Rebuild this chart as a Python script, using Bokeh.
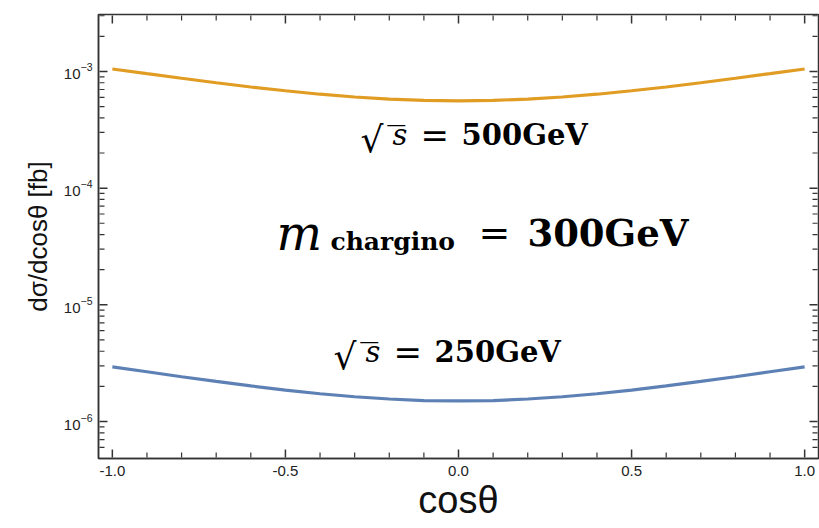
from bokeh.plotting import figure
from bokeh.models import (Range1d, LogTicker, Label, LogTickFormatter,
                          FixedTicker, NumeralTickFormatter)
from bokeh.embed import file_html
from bokeh.resources import INLINE

cos_theta = [-1.0, -0.9, -0.8, -0.7, -0.6, -0.5, -0.4, -0.3, -0.2, -0.1, 0.0,
             0.1, 0.2, 0.3, 0.4, 0.5, 0.6, 0.7, 0.8, 0.9, 1.0]
xsec_500 = [1.05e-3, 9.57e-4, 8.74e-4, 8.00e-4, 7.36e-4, 6.83e-4, 6.38e-4, 6.04e-4, 5.80e-4, 5.65e-4, 5.60e-4,
            5.65e-4, 5.80e-4, 6.04e-4, 6.38e-4, 6.83e-4, 7.36e-4, 8.00e-4, 8.74e-4, 9.57e-4, 1.05e-3]
xsec_250 = [2.94e-6, 2.67e-6, 2.42e-6, 2.21e-6, 2.02e-6, 1.86e-6, 1.73e-6, 1.63e-6, 1.56e-6, 1.51e-6, 1.50e-6,
            1.51e-6, 1.56e-6, 1.63e-6, 1.73e-6, 1.86e-6, 2.02e-6, 2.21e-6, 2.42e-6, 2.67e-6, 2.94e-6]
x_ticks = [-1.0, -0.5, 0.0, 0.5, 1.0]
x_minor_ticks = [-0.9, -0.8, -0.7, -0.6, -0.4, -0.3, -0.2, -0.1,
                 0.1, 0.2, 0.3, 0.4, 0.6, 0.7, 0.8, 0.9]
y_ticks = [1e-6, 1e-5, 1e-4, 1e-3]
y_minor_ticks = [6e-7, 7e-7, 8e-7, 9e-7,
                 2e-6, 3e-6, 4e-6, 5e-6, 6e-6, 7e-6, 8e-6, 9e-6,
                 2e-5, 3e-5, 4e-5, 5e-5, 6e-5, 7e-5, 8e-5, 9e-5,
                 2e-4, 3e-4, 4e-4, 5e-4, 6e-4, 7e-4, 8e-4, 9e-4,
                 2e-3, 3e-3]

ORANGE = "#E19C24"
BLUE = "#5E81B5"
AX = "#333333"
SANS = "Liberation Sans"
SERIF = "DejaVu Serif"

X0, X1 = -1.04, 1.04
Y0, Y1 = 10**-6.317, 10**-2.512
PX_X = 346.0    # frame pixels per unit of cos(theta)
PX_DEC = 116.7  # frame pixels per decade

p = figure(width=819, height=528, y_axis_type="log",
           x_range=Range1d(X0, X1), y_range=Range1d(Y0, Y1),
           output_backend="svg", toolbar_location=None,
           min_border_left=98, min_border_right=1, min_border_top=14, min_border_bottom=70)
p.background_fill_color = "white"
p.border_fill_color = "white"
p.outline_line_color = AX
p.outline_line_width = 1.5
p.xgrid.visible = False
p.ygrid.visible = False

p.line(cos_theta, xsec_500, line_color=ORANGE, line_width=3.2)
p.line(cos_theta, xsec_250, line_color=BLUE, line_width=3.2)


# inward frame ticks on all four sides, starting just inside the frame edge
def frame_ticks(xt, yt, length, width):
    f0 = 10 ** (1.0 / PX_DEC)
    fy = 10 ** (length / PX_DEC)
    d0 = 1.0 / PX_X
    dx = length / PX_X
    n, m = len(xt), len(yt)
    kw = dict(line_color=AX, line_width=width)
    p.segment(x0=xt, y0=[Y0 * f0] * n, x1=xt, y1=[Y0 * fy] * n, **kw)
    p.segment(x0=xt, y0=[Y1 / f0] * n, x1=xt, y1=[Y1 / fy] * n, **kw)
    p.segment(x0=[X0 + d0] * m, y0=yt, x1=[X0 + dx] * m, y1=yt, **kw)
    p.segment(x0=[X1 - d0] * m, y0=yt, x1=[X1 - dx] * m, y1=yt, **kw)


frame_ticks(x_ticks, y_ticks, 9, 1.5)
frame_ticks(x_minor_ticks, y_minor_ticks, 6, 1.2)


def style(ax):
    ax.axis_line_color = AX
    ax.axis_line_width = 1.5
    ax.major_tick_in = 0
    ax.major_tick_out = 0
    ax.minor_tick_in = 0
    ax.minor_tick_out = 0
    ax.major_label_text_font = SANS
    ax.major_label_text_color = "#222222"
    ax.major_label_text_font_size = "15px"
    ax.axis_label_text_font = SANS
    ax.axis_label_text_font_style = "normal"
    ax.axis_label_text_color = "#111111"


xa = p.xaxis[0]
xa.ticker = FixedTicker(ticks=x_ticks)
xa.formatter = NumeralTickFormatter(format="0.0")
style(xa)
xa.major_label_standoff = 7
xa.axis_label = "cosθ"
xa.axis_label_text_font_size = "38px"
xa.axis_label_standoff = 0

ya = p.yaxis[0]
ya.ticker = LogTicker(num_minor_ticks=0)
ya.formatter = LogTickFormatter()
style(ya)
ya.major_label_standoff = 6
ya.axis_label = "dσ/dcosθ [fb]"
ya.axis_label_text_font_size = "26px"
ya.axis_label_standoff = 8


def lab(x, y, t, size, style_="normal", font=SERIF):
    p.add_layout(Label(x=x, y=y, text=t, text_font=font, text_font_size=size,
                       text_font_style=style_, text_color="black",
                       text_align="left", text_baseline="alphabetic"))


# sqrt(s) = 500GeV
lab(-0.283, 2.62e-4, "√", "36px")
lab(-0.206, 2.62e-4, "‾", "36px")
lab(-0.191, 2.83e-4, "s", "29px", "italic")
lab(-0.110, 2.83e-4, "=", "34px")
lab(0.009, 2.83e-4, "500GeV", "29px", "bold")
# m_chargino = 300GeV
lab(-0.526, 4.09e-5, "m", "48px", "italic")
lab(-0.370, 3.49e-5, "chargino", "25px", "bold")
lab(0.058, 4.09e-5, "=", "38px")
lab(0.199, 4.09e-5, "300GeV", "37px", "bold")
# sqrt(s) = 250GeV
lab(-0.361, 3.62e-6, "√", "36px")
lab(-0.284, 3.62e-6, "‾", "36px")
lab(-0.269, 3.91e-6, "s", "29px", "italic")
lab(-0.188, 3.91e-6, "=", "34px")
lab(-0.069, 3.91e-6, "250GeV", "29px", "bold")

open("out.html", "w").write(file_html(p, INLINE))
